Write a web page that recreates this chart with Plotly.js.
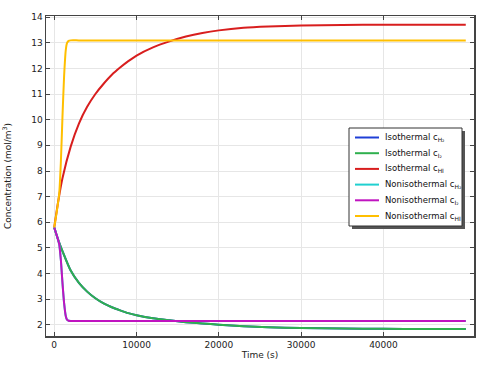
<!DOCTYPE html>
<html><head><meta charset="utf-8">
<script src="https://cdn.plot.ly/plotly-3.0.1.min.js"></script>
<style>html,body{margin:0;padding:0;background:#fff}#chart{width:486px;height:366px}</style>
</head><body><div id="chart"></div>
<script>
// Isothermal (H2 and I2 coincide)
const isoT = [0, 500, 1000, 2000, 3000, 4000, 5000, 6000, 7000, 8000, 9000, 10000, 12000, 14000, 16000, 18000, 20000, 23000, 26000, 30000, 35000, 40000, 45000, 50000];
const isoH2 = [5.8, 5.3, 4.88, 4.12, 3.64, 3.3, 3.04, 2.84, 2.69, 2.57, 2.46, 2.38, 2.26, 2.18, 2.11, 2.06, 2.01, 1.95, 1.91, 1.88, 1.86, 1.85, 1.845, 1.84];
const isoI2 = isoH2.slice();
const isoHI = [5.8, 6.85, 7.72, 8.95, 9.85, 10.5, 11.0, 11.4, 11.75, 12.03, 12.28, 12.5, 12.82, 13.05, 13.24, 13.38, 13.48, 13.58, 13.63, 13.67, 13.69, 13.7, 13.7, 13.7];
// Nonisothermal
const nonT = [0, 300, 600, 800, 1000, 1200, 1400, 1550, 1750, 2000, 3000, 10000, 20000, 30000, 40000, 50000];
const nonH2 = [5.8, 5.5, 5.15, 4.55, 3.65, 2.85, 2.35, 2.21, 2.165, 2.155, 2.155, 2.155, 2.155, 2.155, 2.155, 2.155];
const nonI2 = nonH2.slice();
const nonHI = [5.8, 6.4, 7.1, 8.3, 10.1, 11.7, 12.7, 12.98, 13.07, 13.09, 13.09, 13.09, 13.09, 13.09, 13.09, 13.09];

const names = ['Isothermal c<sub>H₂</sub>', 'Isothermal c<sub>I₂</sub>', 'Isothermal c<sub>HI</sub>',
               'Nonisothermal c<sub>H₂</sub>', 'Nonisothermal c<sub>I₂</sub>', 'Nonisothermal c<sub>HI</sub>'];
const colors = ['#1f3fd6', '#2fb04e', '#d81e1e', '#20d0d0', '#c014c0', '#ffbf00'];
const xs = [isoT, isoT, isoT, nonT, nonT, nonT];
const ys = [isoH2, isoI2, isoHI, nonH2, nonI2, nonHI];

const traces = ys.map((y, i) => ({
  x: xs[i], y: y, type: 'scatter', mode: 'lines', name: names[i],
  line: {color: colors[i], width: 2, shape: 'spline', smoothing: 0.6}
}));

// plot area in pixels (for the hand-built legend box)
const M = {l: 46, r: 12, t: 16, b: 30};
const W = 486, H = 366;
const PW = W - M.l - M.r, PH = H - M.t - M.b;
const px = v => (v - M.l) / PW;
const py = v => (H - M.b - v) / PH;

const box = {x0: 349, x1: 462, y0: 128, y1: 226};
const rowY = [137.5, 153.2, 168.9, 184.6, 200.3, 216];
const shapes = [
  {type: 'rect', xref: 'paper', yref: 'paper', x0: px(box.x0 + 3), x1: px(box.x1 + 3), y0: py(box.y1 + 3), y1: py(box.y0 + 3),
   fillcolor: '#555', line: {width: 0}, layer: 'above'},
  {type: 'rect', xref: 'paper', yref: 'paper', x0: px(box.x0), x1: px(box.x1), y0: py(box.y1), y1: py(box.y0),
   fillcolor: '#fff', line: {width: 1, color: '#333'}, layer: 'above'}
];
const annotations = [];
names.forEach((n, i) => {
  shapes.push({type: 'line', xref: 'paper', yref: 'paper', x0: px(355), x1: px(379), y0: py(rowY[i]), y1: py(rowY[i]),
    line: {color: colors[i], width: 2}, layer: 'above'});
  annotations.push({xref: 'paper', yref: 'paper', x: px(383), y: py(rowY[i]), xanchor: 'left', yanchor: 'middle',
    text: n, showarrow: false, font: {family: 'DejaVu Sans', size: 8.5, color: '#111'}});
});

const axisCommon = {
  showline: true, linecolor: '#444', linewidth: 1.5, mirror: 'ticks',
  ticks: 'inside', ticklen: 4, tickcolor: '#444',
  showgrid: true, gridcolor: '#e6e6e6', zeroline: false,
  tickfont: {family: 'DejaVu Sans', size: 9, color: '#222'}
};

const layout = {
  width: W, height: H, margin: M,
  paper_bgcolor: '#fff', plot_bgcolor: '#fff',
  font: {family: 'DejaVu Sans', size: 9, color: '#222'},
  xaxis: Object.assign({}, axisCommon, {
    range: [-1000, 51000], tickvals: [0, 10000, 20000, 30000, 40000],
    ticktext: ['0', '10000', '20000', '30000', '40000'],
    title: {text: 'Time (s)', font: {family: 'DejaVu Sans', size: 9}, standoff: 2}
  }),
  yaxis: Object.assign({}, axisCommon, {
    range: [1.57, 14.04], dtick: 1,
    title: {text: 'Concentration (mol/m<sup>3</sup>)', font: {family: 'DejaVu Sans', size: 9}, standoff: 18}
  }),
  showlegend: false,
  shapes: shapes,
  annotations: annotations
};

Plotly.newPlot('chart', traces, layout, {displayModeBar: false, staticPlot: true});
</script></body></html>
